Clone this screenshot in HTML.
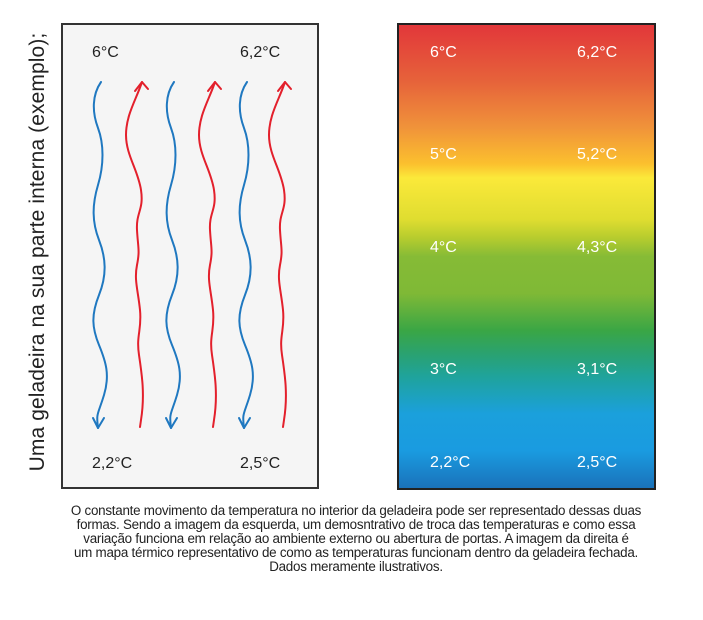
<!DOCTYPE html>
<html><head><meta charset="utf-8"><style>
html,body{margin:0;padding:0;background:#fff;}
body{width:703px;height:620px;position:relative;overflow:hidden;font-family:"Liberation Sans",sans-serif;}
.l{position:absolute;font-size:16px;line-height:16px;}
.cap{position:absolute;left:0;width:712px;top:504px;text-align:center;font-size:13.4px;line-height:14px;color:#222;letter-spacing:-0.25px;}
</style></head><body>
<div style="position:absolute;left:61px;top:23px;width:254px;height:462px;border:2px solid #333;background:#f5f5f5;"></div>
<div style="position:absolute;left:397px;top:23px;width:255px;height:463px;border:2px solid #222;background:linear-gradient(to bottom,#e2373a 0%,#e6623a 12%,#f0923a 22%,#fbc02e 30%,#fbe93a 33%,#dfdd30 42%,#b6cc2e 46%,#86bb36 50%,#7fb936 58%,#3aa645 66%,#2aa270 71%,#1fa39c 76%,#1ba0dc 84%,#1a9be0 92%,#1a72ba 100%);"></div>
<svg style="position:absolute;left:0;top:0" width="703" height="620">
<g fill="none" stroke-width="2" stroke-linecap="round" stroke-linejoin="round">
<g stroke="#1f78c0">
<path d="M101,82 C92,95 92,112 98,128 S104,165 98,185 S92,222 99,240 S107,275 99,295 S92,328 99,345 S110,375 104,395 S96,412 98,428"/>
<path d="M93,418 L98,428 L104,418"/>
<path d="M174,82 C165,95 165,112 171,128 S177,165 171,185 S165,222 172,240 S180,275 172,295 S165,328 172,345 S183,375 177,395 S169,412 171,428"/>
<path d="M166,418 L171,428 L177,418"/>
<path d="M247,82 C238,95 238,112 244,128 S250,165 244,185 S238,222 245,240 S253,275 245,295 S238,328 245,345 S256,375 250,395 S242,412 244,428"/>
<path d="M239,418 L244,428 L250,418"/>
</g>
<g stroke="#e3202c">
<path d="M142,82 C136,100 126,115 126,135 S138,170 141,190 S136,212 137,230 S140,250 137,265 S138,290 140,310 S136,335 139,355 S145,395 141,420 L140,427"/>
<path d="M135,91 L142,82 L148,89"/>
<path d="M215,82 C209,100 199,115 199,135 S211,170 214,190 S209,212 210,230 S213,250 210,265 S211,290 213,310 S209,335 212,355 S218,395 214,420 L213,427"/>
<path d="M208,91 L215,82 L221,89"/>
<path d="M285,82 C279,100 269,115 269,135 S281,170 284,190 S279,212 280,230 S283,250 280,265 S281,290 283,310 S279,335 282,355 S288,395 284,420 L283,427"/>
<path d="M278,91 L285,82 L291,89"/>
</g>
</g>
</svg>
<div class="l" style="left:92px;top:45px;color:#222">6°C</div>
<div class="l" style="left:240px;top:45px;color:#222">6,2°C</div>
<div class="l" style="left:92px;top:456px;color:#222">2,2°C</div>
<div class="l" style="left:240px;top:456px;color:#222">2,5°C</div>
<div class="l" style="left:430px;top:45px;color:#fff">6°C</div>
<div class="l" style="left:577px;top:45px;color:#fff">6,2°C</div>
<div class="l" style="left:430px;top:147px;color:#fff">5°C</div>
<div class="l" style="left:577px;top:147px;color:#fff">5,2°C</div>
<div class="l" style="left:430px;top:240px;color:#fff">4°C</div>
<div class="l" style="left:577px;top:240px;color:#fff">4,3°C</div>
<div class="l" style="left:430px;top:362px;color:#fff">3°C</div>
<div class="l" style="left:577px;top:362px;color:#fff">3,1°C</div>
<div class="l" style="left:430px;top:455px;color:#fff">2,2°C</div>
<div class="l" style="left:577px;top:455px;color:#fff">2,5°C</div>
<div style="position:absolute;left:38px;top:252px;transform:translate(-50%,-50%) rotate(-90deg);white-space:nowrap;font-size:21px;color:#222;letter-spacing:0.1px;">Uma geladeira na sua parte interna (exemplo);</div>
<div class="cap">O constante movimento da temperatura no interior da geladeira pode ser representado dessas duas<br>formas. Sendo a imagem da esquerda, um demosntrativo de troca das temperaturas e como essa<br>variação funciona em relação ao ambiente externo ou abertura de portas. A imagem da direita é<br>um mapa térmico representativo de como as temperaturas funcionam dentro da geladeira fechada.<br>Dados meramente ilustrativos.</div>
</body></html>
